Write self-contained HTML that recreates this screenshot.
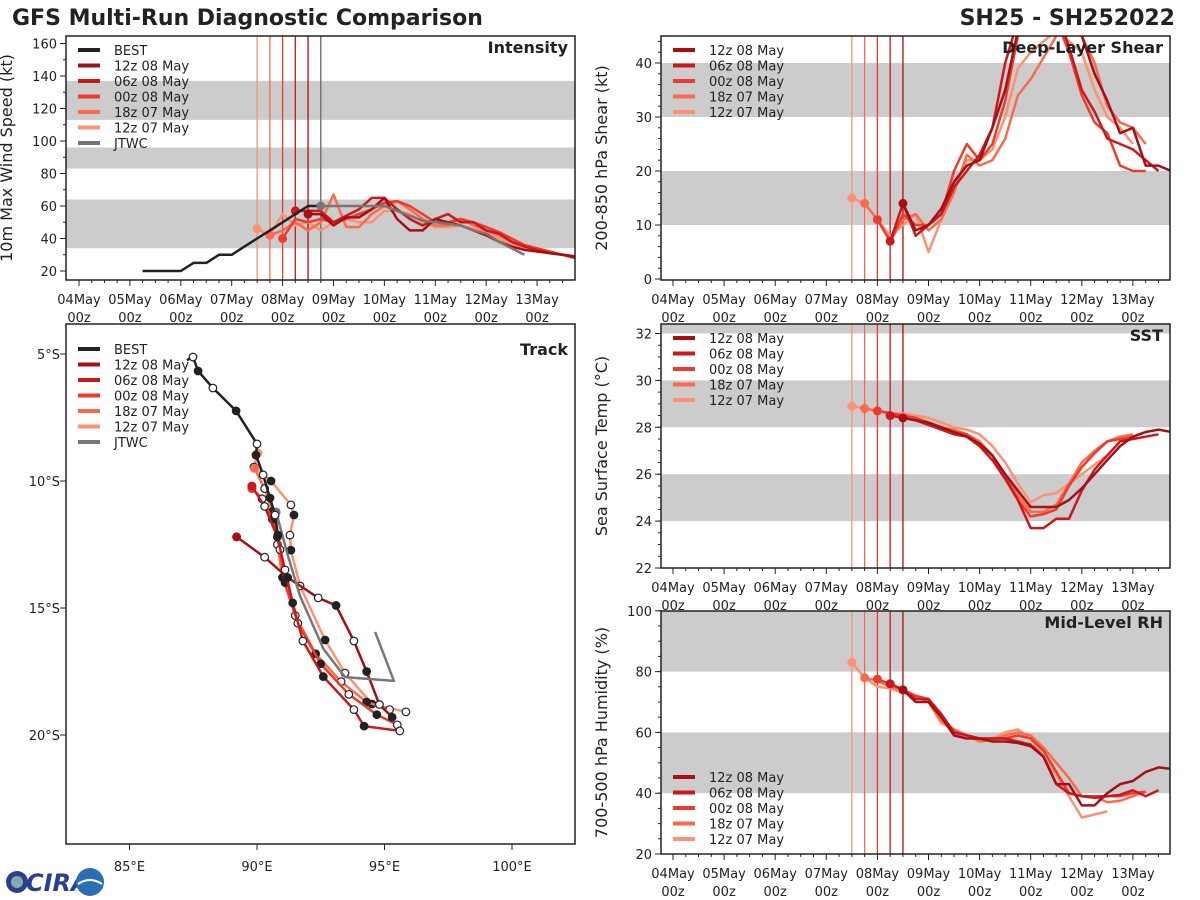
<!DOCTYPE html>
<html><head><meta charset="utf-8">
<style>
html,body{margin:0;padding:0;background:#fff;}
svg{display:block;font-family:"DejaVu Sans","Liberation Sans",sans-serif;}
</style></head>
<body>
<svg id="chart" width="1200" height="900" viewBox="0 0 1200 900">
<text x="12" y="25" font-size="22" font-weight="bold" fill="#222">GFS Multi-Run Diagnostic Comparison</text>
<text x="1175" y="25" font-size="22" font-weight="bold" fill="#222" text-anchor="end">SH25 - SH252022</text>
<g id="root"></g>
<g>
<circle cx="17" cy="882" r="11" fill="#2b3f8f"/><circle cx="17" cy="882" r="6" fill="#8aa"/>
<text x="26" y="891" font-size="24" font-weight="bold" fill="#2b3f8f" font-style="italic">CIRA</text>
<circle cx="90" cy="882" r="14" fill="#2a6fb5"/><path d="M78 884 q12 -8 24 0" stroke="#fff" stroke-width="2" fill="none"/>
</g>
</svg>
<script>
// ---------- DATA ----------
const runNames = ["12z 08 May","06z 08 May","00z 08 May","18z 07 May","12z 07 May"];
const runStarts = [4.5, 4.25, 4.0, 3.75, 3.5]; // days since 04May 00z
const runColors = ["#a50f15","#cb181d","#ef3b2c","#fb6a4a","#fc9272"];
const dayLabels = ["04May","05May","06May","07May","08May","09May","10May","11May","12May","13May"];

const bestStart = 1.25;
const bestWind = [20,20,20,20,25,25,30,30,35,40,45,50,55,60,60];
const jtwcStart = 4.75;
const jtwcWind = [60,60,60,60,60,60,57,54,51,50,49,48,45,43,38,34,30];
const wind12z08 = [55,55,48,53,53,58,65,52,45,45,52,50,48,45,42,38,35,33,32,31,30,29];
const wind06z08 = [57,57,57,50,54,58,65,65,58,52,48,52,55,50,50,45,43,38,35,33,31,30,28];
const wind00z08 = [40,52,50,52,50,52,55,58,62,63,60,55,50,50,52,50,47,44,40,36,34,32,30,29,29];
const wind18z07 = [42,45,50,45,50,67,47,47,55,60,63,58,52,48,48,52,48,45,42,38,35,33,31,30,29,29];
const wind12z07 = [46,42,55,48,50,45,50,52,50,50,57,57,55,50,47,47,48,46,44,40,36,34,32,31,30,29];

const shear12z08 = [14,9,10,13,18,21,22,28,35,46,52,55,55,52,45,38,33,27,28,21,21,20];
const shear06z08 = [7,14,8,10,12,17,20,23,28,40,48,50,52,50,43,35,31,26,25,24,22,20];
const shear00z08 = [11,7,12,10,10,12,20,25,22,25,33,45,48,50,48,42,34,29,27,21,20,20];
const shear18z07 = [14,11,7,11,12,9,11,16,23,21,22,26,34,37,41,45,47,45,40,32,29,28,25];
const shear12z07 = [15,14,11,8,10,12,5,11,17,22,22,24,30,39,42,44,46,44,42,35,30,28,25];

const sst12z08 = [28.4,28.3,28.2,28.0,27.8,27.6,27.3,26.8,26.0,25.3,24.6,24.6,24.6,24.9,25.4,26.0,26.6,27.2,27.6,27.8,27.9,27.8];
const sst06z08 = [28.5,28.4,28.3,28.1,27.9,27.7,27.6,27.2,26.6,25.8,24.9,23.7,23.7,24.1,24.1,25.3,26.2,26.8,27.4,27.5,27.6,27.7];
const sst00z08 = [28.7,28.6,28.5,28.4,28.2,28.0,27.8,27.7,27.3,26.8,25.9,24.9,24.2,24.3,24.5,25.5,26.3,26.9,27.4,27.5,27.6];
const sst18z07 = [28.8,28.7,28.6,28.5,28.4,28.2,28.0,27.9,27.7,27.4,26.8,26.0,25.1,24.4,24.4,24.7,25.6,26.5,27.0,27.4,27.6,27.7];
const sst12z07 = [28.9,28.8,28.7,28.6,28.6,28.5,28.4,28.2,28.0,27.9,27.7,27.2,26.5,25.6,24.8,25.1,25.2,25.6,26.0,26.4,26.8];

const rh12z08 = [74,70,70,65,59,58,58,57,57,56.5,55.5,52,43,43,36,36,40,43,44,47,48.5,48];
const rh06z08 = [76,74,71,71,66,60,59,58,58,58,57,56,52,43,40,39,38.5,39,39.5,41,39,41];
const rh00z08 = [77.5,76,74,72,71,66,60,59,58,58,58,59,58,54,47,40,39,39,39,39,40,40.5];
const rh18z07 = [78,77,75,74,72,70,64,61,59,57,57.5,59,60,59,55,50,45,39,39,37,37.5,39,40.5];
const rh12z07 = [83,78,75,74.5,73,72,70,63,61,59,58,58,60,61,58,52,46,39,32,33,34];

const bestLon = [87.25,87.49,87.69,88.27,89.18,90.0,89.96,90.24,90.51,90.71,90.82];
const bestLat = [5.24,5.12,5.67,6.34,7.24,8.54,8.98,9.76,10.67,11.34,12.13];
const trk12z08Lon = [89.2,90.3,91.2,92.4,93.1,93.8,94.3,94.8,95.3];
const trk12z08Lat = [12.2,13.0,13.8,14.6,14.9,16.3,17.5,18.8,19.3];
const trk06z08Lon = [89.8,90.3,90.8,91.1,91.4,91.8,92.6,93.8,94.2,95.6];
const trk06z08Lat = [10.2,11.0,12.2,13.5,14.8,16.3,17.7,19.0,19.65,19.84];
const trk00z08Lon = [89.8,90.2,90.6,90.9,91.1,91.6,92.5,93.6,94.7,95.5];
const trk00z08Lat = [10.3,10.7,11.5,12.7,14.0,15.6,17.2,18.4,19.2,19.6];
const trk18z07Lon = [89.9,90.3,90.6,90.8,91.0,91.5,92.3,93.3,94.3,95.2];
const trk18z07Lat = [9.5,10.3,11.2,12.5,13.8,15.3,16.8,17.9,18.7,19.0];
const trk12z07Lon = [90.04,89.88,90.55,91.33,91.45,91.29,91.33,91.69,92.67,93.45,94.51,95.84];
const trk12z07Lat = [8.9,9.45,10.0,10.94,11.34,12.13,12.72,14.13,16.26,17.56,18.78,19.09];
const jtwcLon = [90.75,91.2,91.69,92.6,93.45,95.37,94.63];
const jtwcLat = [11.22,12.9,14.53,16.6,17.72,17.87,15.94];

const windRuns = [wind12z08,wind06z08,wind00z08,wind18z07,wind12z07];
const shearRuns = [shear12z08,shear06z08,shear00z08,shear18z07,shear12z07];
const sstRuns = [sst12z08,sst06z08,sst00z08,sst18z07,sst12z07];
const rhRuns = [rh12z08,rh06z08,rh00z08,rh18z07,rh12z07];
const trkLons = [trk12z08Lon,trk06z08Lon,trk00z08Lon,trk18z07Lon,trk12z07Lon];
const trkLats = [trk12z08Lat,trk06z08Lat,trk00z08Lat,trk18z07Lat,trk12z07Lat];

// ---------- HELPERS ----------
const NS = "http://www.w3.org/2000/svg";
const root = document.getElementById('root');
function mk(tag, attrs, parent){
  const e = document.createElementNS(NS, tag);
  for (const k in attrs) e.setAttribute(k, attrs[k]);
  (parent||root).appendChild(e);
  return e;
}
let clipId = 0;
function panel(name, x0, y0, x1, y1){
  const g = mk('g', {});
  
  
  const id = 'c' + (clipId++);
  const cp = mk('clipPath', {id:id}, g);
  mk('rect', {x:x0, y:y0, width:x1-x0, height:y1-y0}, cp);
  const inner = mk('g', {'clip-path':'url(#'+id+')'}, g);
  return {g:g, inner:inner, x0:x0, y0:y0, x1:x1, y1:y1};
}
function frame(p){
  const r = mk('rect', {x:p.x0, y:p.y0, width:p.x1-p.x0, height:p.y1-p.y0, fill:'none', stroke:'#222', 'stroke-width':1.5}, p.g);
  
  
}
function band(p, yf, a, b){
  const ya = yf(a), yb = yf(b);
  const r = mk('rect', {x:p.x0, y:Math.min(ya,yb), width:p.x1-p.x0, height:Math.abs(ya-yb), fill:'#cccccc'}, p.inner);
  
  
}
function polyline(parent, xs, ys, color, w, name){
  const pts = xs.map((x,i)=>x.toFixed(1)+','+ys[i].toFixed(1)).join(' ');
  const l = mk('polyline', {points:pts, fill:'none', stroke:color, 'stroke-width':w, 'stroke-linejoin':'round'}, parent);
  
  
  return l;
}
function timeAxis(p, xf, withLabels){
  const g = mk('g', {}, p.g);
  
  
  for (let d = 0; d < 12; d += 0.25){
    const x = xf(d);
    if (x < p.x0 || x > p.x1) continue;
    const major = Math.abs(d - Math.round(d)) < 1e-6;
    mk('line', {x1:x, x2:x, y1:p.y1, y2:p.y1+(major?6:3), stroke:'#222', 'stroke-width':1}, g);
  }
  if (!withLabels) return;
  dayLabels.forEach((lab, i) => {
    const x = xf(i);
    const t = mk('text', {x:x, y:p.y1+24, 'font-size':13, fill:'#222', 'text-anchor':'middle'}, g);
    t.textContent = lab;
    
    
    const t2 = mk('text', {x:x, y:p.y1+42, 'font-size':13, fill:'#222', 'text-anchor':'middle'}, g);
    t2.textContent = '00z';
    
    
  });
}
function yAxis(p, yf, ticks, minorStep, lo, hi, title, fmt){
  const g = mk('g', {}, p.g);
  
  
  for (let v = lo; v <= hi + 1e-6; v += minorStep){
    const y = yf(v);
    if (y < p.y0-0.5 || y > p.y1+0.5) continue;
    mk('line', {x1:p.x0-3, x2:p.x0, y1:y, y2:y, stroke:'#222', 'stroke-width':1}, g);
  }
  ticks.forEach(v => {
    const y = yf(v);
    mk('line', {x1:p.x0-6, x2:p.x0, y1:y, y2:y, stroke:'#222', 'stroke-width':1}, g);
    const t = mk('text', {x:p.x0-9, y:y+5, 'font-size':13, fill:'#222', 'text-anchor':'end'}, g);
    t.textContent = fmt ? fmt(v) : v;
    
    
  });
  if (title){
    const cy = (p.y0+p.y1)/2, cx = p.x0 - 54;
    const t = mk('text', {x:cx, y:cy, 'font-size':16, fill:'#222', 'text-anchor':'middle', transform:'rotate(-90 '+cx+' '+cy+')'}, g);
    t.textContent = title;
    
    
  }
}
function panelTitle(p, txt, y){
  const t = mk('text', {x:p.x1-7, y:y, 'font-size':16, 'font-weight':'bold', fill:'#222', 'text-anchor':'end'}, p.g);
  t.textContent = txt;
  
  
}
function legend(p, entries, x, y){
  const g = mk('g', {}, p.g);
  
  
  entries.forEach((e, i) => {
    const yy = y + i*15.5;
    const l = mk('line', {x1:x, x2:x+22, y1:yy, y2:yy, stroke:e[1], 'stroke-width':4}, g);
    
    
    const t = mk('text', {x:x+36, y:yy+5, 'font-size':13, fill:'#222'}, g);
    t.textContent = e[0];
    
    
  });
}
function timeSeries(p, xf, yf, start, vals, color, name, dot){
  const xs = vals.map((v,i)=>xf(start + i*0.25));
  const ys = vals.map(v=>yf(v));
  polyline(p.inner, xs, ys, color, 2.5, name);
  if (dot){
    const c = mk('circle', {cx:xs[0], cy:ys[0], r:4.5, fill:color}, p.inner);
    
    
  }
}
function initLines(p, xf, extra){
  runStarts.forEach((d,i) => {
    const l = mk('line', {x1:xf(d), x2:xf(d), y1:p.y0, y2:p.y1, stroke:runColors[i], 'stroke-width':1.3}, p.inner);
    
    
  });
  if (extra){
    const l = mk('line', {x1:xf(extra), x2:xf(extra), y1:p.y0, y2:p.y1, stroke:'#777', 'stroke-width':1.5}, p.inner);
    
    
  }
}
const runLegend = runNames.map((n,i)=>[n, runColors[i]]);

// ---------- INTENSITY ----------
const xL = d => 79 + d*50.9;
const xR = d => 673 + d*51.1;
{
  const p = panel('intensity-panel', 66, 36, 575, 280);
  const yf = v => 271 - (v-20)*1.625;
  band(p, yf, 34, 64); band(p, yf, 83, 96); band(p, yf, 113, 137);
  initLines(p, xL, jtwcStart);
  for (let i = 4; i >= 0; i--) timeSeries(p, xL, yf, runStarts[i], windRuns[i], runColors[i], 'intensity-'+runNames[i].replace(/ /g,'-'), true);
  timeSeries(p, xL, yf, bestStart, bestWind, '#222', 'intensity-best', false);
  timeSeries(p, xL, yf, jtwcStart, jtwcWind, '#777', 'intensity-jtwc', true);
  frame(p);
  timeAxis(p, xL, true);
  yAxis(p, yf, [20,40,60,80,100,120,140,160], 10, 20, 160, '10m Max Wind Speed (kt)');
  panelTitle(p, 'Intensity', 53);
  legend(p, [['BEST','#222']].concat(runLegend).concat([['JTWC','#777']]), 78, 50);
}
// ---------- SHEAR ----------
{
  const p = panel('shear-panel', 661, 36, 1170, 280);
  const yf = v => 279 - v*5.4;
  band(p, yf, 10, 20); band(p, yf, 30, 40);
  initLines(p, xR);
  for (let i = 4; i >= 0; i--) timeSeries(p, xR, yf, runStarts[i], shearRuns[i], runColors[i], 'shear-'+runNames[i].replace(/ /g,'-'), true);
  frame(p);
  timeAxis(p, xR, true);
  yAxis(p, yf, [0,10,20,30,40], 2, 0, 45, '200-850 hPa Shear (kt)');
  panelTitle(p, 'Deep-Layer Shear', 53);
  legend(p, runLegend, 673, 50);
}
// ---------- SST ----------
{
  const p = panel('sst-panel', 661, 324, 1170, 568);
  const yf = v => 568 - (v-22)*23.45;
  band(p, yf, 24, 26); band(p, yf, 28, 30); band(p, yf, 32, 33);
  initLines(p, xR);
  for (let i = 4; i >= 0; i--) timeSeries(p, xR, yf, runStarts[i], sstRuns[i], runColors[i], 'sst-'+runNames[i].replace(/ /g,'-'), true);
  frame(p);
  timeAxis(p, xR, true);
  yAxis(p, yf, [22,24,26,28,30,32], 0.5, 22, 32.4, 'Sea Surface Temp (°C)');
  panelTitle(p, 'SST', 341);
  legend(p, runLegend, 673, 338);
}
// ---------- RH ----------
{
  const p = panel('rh-panel', 661, 611, 1170, 854);
  const yf = v => 854 - (v-20)*3.04;
  band(p, yf, 40, 60); band(p, yf, 80, 100);
  initLines(p, xR);
  for (let i = 4; i >= 0; i--) timeSeries(p, xR, yf, runStarts[i], rhRuns[i], runColors[i], 'rh-'+runNames[i].replace(/ /g,'-'), true);
  frame(p);
  timeAxis(p, xR, true);
  yAxis(p, yf, [20,40,60,80,100], 5, 20, 100, '700-500 hPa Humidity (%)');
  panelTitle(p, 'Mid-Level RH', 628);
  legend(p, runLegend, 673, 777);
}
// ---------- TRACK ----------
{
  const p = panel('track-panel', 66, 324, 575, 844);
  const xT = lon => 257 + (lon-90)*25.5;
  const yT = lat => 481 + (lat-10)*25.4;
  function track(lons, lats, color, name, markers){
    polyline(p.inner, lons.map(xT), lats.map(yT), color, 2.5, name);
    if (markers){
      lons.forEach((lo, i) => {
        if (i === 0) return;
        const c = mk('circle', {cx:xT(lo), cy:yT(lats[i]), r:3.8, fill:(i%2? '#fff':'#222'), stroke:'#222', 'stroke-width':1.2}, p.inner);
        
        
      });
    }
  }
  for (let i = 4; i >= 0; i--){
    track(trkLons[i], trkLats[i], runColors[i], 'track-'+runNames[i].replace(/ /g,'-'), true);
    const c = mk('circle', {cx:xT(trkLons[i][0]), cy:yT(trkLats[i][0]), r:4.5, fill:runColors[i]}, p.inner);
    
    
  }
  track(jtwcLon, jtwcLat, '#777', 'track-jtwc', false);
  const jc = mk('circle', {cx:xT(jtwcLon[0]), cy:yT(jtwcLat[0]), r:4.5, fill:'#777'}, p.inner);
  
  
  track(bestLon, bestLat, '#222', 'track-best', true);
  frame(p);
  const g = mk('g', {}, p.g);
  
  
  [85,90,95,100].forEach(lo => {
    const x = xT(lo);
    mk('line', {x1:x, x2:x, y1:p.y1, y2:p.y1+6, stroke:'#222'}, g);
    const t = mk('text', {x:x, y:p.y1+27, 'font-size':13, fill:'#222', 'text-anchor':'middle'}, g);
    t.textContent = lo + '°E';
    
    
  });
  [5,10,15,20].forEach(la => {
    const y = yT(la);
    mk('line', {x1:p.x0-6, x2:p.x0, y1:y, y2:y, stroke:'#222'}, g);
    const t = mk('text', {x:p.x0-6, y:y+5, 'font-size':13, fill:'#222', 'text-anchor':'end'}, g);
    t.textContent = la + '°S';
    
    
  });
  panelTitle(p, 'Track', 355);
  legend(p, [['BEST','#222']].concat(runLegend).concat([['JTWC','#777']]), 78, 349);
}
</script>
</body></html>
